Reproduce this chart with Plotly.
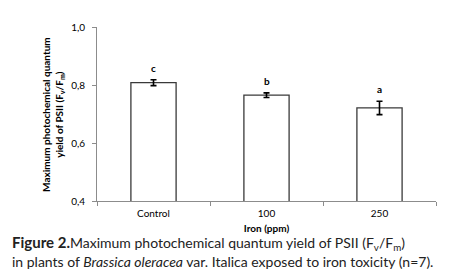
import plotly.graph_objects as go

# Data
treatments = ['Control', '100', '250']
fv_fm = [0.808, 0.765, 0.721]
sd = [0.010, 0.008, 0.023]
letters = ['c', 'b', 'a']

fig = go.Figure()
fig.add_trace(go.Bar(
    x=treatments, y=fv_fm, width=0.4,
    marker=dict(color='white', line=dict(color='#3a3a3a', width=1.3)),
    error_y=dict(type='data', array=sd, color='black', thickness=1.6, width=3),
    showlegend=False,
))

# significance letters above bars (x given as category index)
for i, (v, e, l) in enumerate(zip(fv_fm, sd, letters)):
    fig.add_annotation(x=i, y=v + e, text='<b>' + l + '</b>', showarrow=False,
                       yanchor='bottom', yshift=4, font=dict(size=10, color='black'))

fig.add_annotation(xref='paper', yref='paper', x=-0.13, y=0.5, xanchor='center', yanchor='middle',
                   text='<b>Maximum photochemical quantum<br>yield of PSII (F<sub>v</sub>/F<sub>m</sub>)</b>',
                   textangle=-90, showarrow=False, font=dict(size=10, color='black'))

# figure caption, two lines
cap_font = dict(family='Lato', size=14, color='#222222')
fig.add_annotation(xref='paper', yref='paper', x=-0.257, y=-0.243, xanchor='left', yanchor='middle',
                   showarrow=False, font=cap_font,
                   text='<b><span style="font-size:15px">Figure 2.</span></b>Maximum photochemical quantum yield of PSII (F<sub>v</sub>/F<sub>m</sub>)')
fig.add_annotation(xref='paper', yref='paper', x=-0.257, y=-0.345, xanchor='left', yanchor='middle',
                   showarrow=False, font=cap_font,
                   text='in plants of <i>Brassica oleracea</i> var. Italica exposed to iron toxicity (n=7).')

fig.update_layout(
    width=468, height=280,
    margin=dict(l=89, r=40, t=12, b=87),
    plot_bgcolor='white', paper_bgcolor='white',
    separators=',.',
    font=dict(family='Lato', size=10, color='black'),
    xaxis=dict(type='category', range=[-0.5, 2.5], showline=True, linecolor='#8c8c8c', linewidth=1,
               ticks='outside', tickson='boundaries', ticklen=4, tickcolor='#8c8c8c',
               ticklabelstandoff=3,
               title=dict(text='<b>Iron (ppm)</b>', standoff=6, font=dict(size=10, color='black'))),
    yaxis=dict(range=[0.4, 1.0], dtick=0.2, tickformat='.1f', showgrid=False, zeroline=False,
               showline=True, linecolor='#8c8c8c', linewidth=1, ticks='outside', ticklen=4,
               tickcolor='#8c8c8c', ticklabelstandoff=5),
)

fig.write_html("out.html")
